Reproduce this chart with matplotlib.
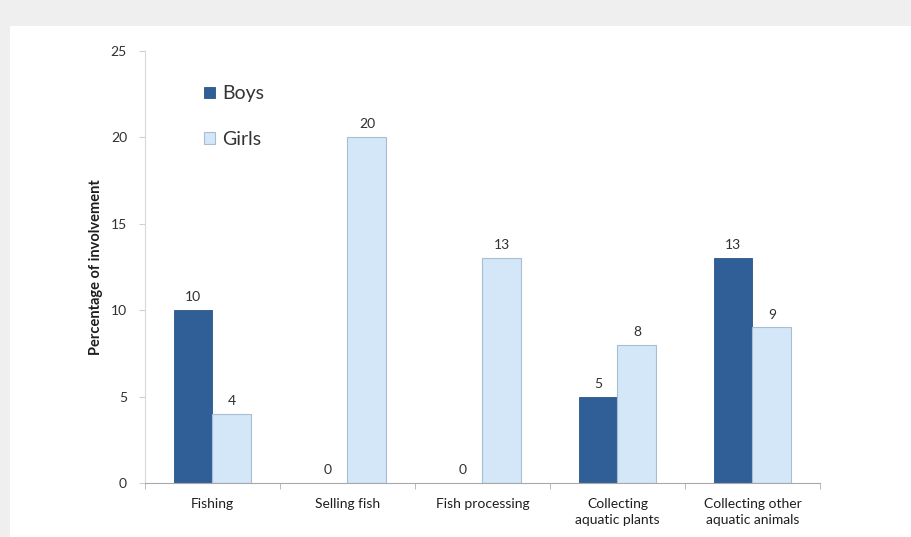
import numpy as np
import matplotlib.pyplot as plt
from matplotlib.patches import Rectangle

# activities and involvement (%)
categories = ["Fishing", "Selling fish", "Fish processing",
              "Collecting\naquatic plants", "Collecting other\naquatic animals"]
boys = [10, 0, 0, 5, 13]
girls = [4, 20, 13, 8, 9]

plt.rcParams['font.family'] = ['Lato', 'DejaVu Sans']

fig = plt.figure(figsize=(9.12, 5.37), dpi=100, facecolor='#efefef')
# white sheet behind the chart
fig.patches.append(Rectangle((10 / 912, 0), 1, 1 - 26 / 537, transform=fig.transFigure,
                             facecolor='white', edgecolor='none', zorder=-10))

ax = fig.add_axes([145 / 912, 1 - 483 / 537, 675 / 912, 432 / 537])
ax.set_facecolor('none')

x = np.arange(len(categories))
w = 0.288
b1 = ax.bar(x - w / 2, boys, w, color='#2f5f96', edgecolor='#2a5586', linewidth=0.6, label='Boys')
b2 = ax.bar(x + w / 2, girls, w, color='#d3e7f8', edgecolor='#a8bcd2', linewidth=0.8, label='Girls')

for rects, vals in ((b1, boys), (b2, girls)):
    for r, v in zip(rects, vals):
        ax.annotate(str(v), (r.get_x() + r.get_width() / 2, v), xytext=(0, 5),
                    textcoords='offset points', ha='center', va='bottom',
                    fontsize=10, color='#303030')

ax.set_xlim(-0.5, len(categories) - 0.5)
ax.set_ylim(0, 25)
ax.set_yticks([0, 5, 10, 15, 20, 25])
ax.set_xticks(x)
ax.set_xticklabels(categories, fontsize=10, color='#1e1e1e', linespacing=1.4)
ax.set_xticks(np.arange(-0.5, len(categories)), minor=True)
ax.tick_params(axis='x', which='major', length=0, pad=11)
ax.tick_params(axis='x', which='minor', length=4, color='#b0b0b0', direction='out')
ax.tick_params(axis='y', length=4, color='#d0d0d0', labelsize=10, labelcolor='#303030', pad=9)

for s in ('top', 'right'):
    ax.spines[s].set_visible(False)
ax.spines['left'].set_color('#d8d8d8')
ax.spines['bottom'].set_color('#a8a8a8')

ax.set_ylabel('Percentage of involvement', fontsize=10.5, fontweight='bold', color='#1e1e1e')
ax.yaxis.set_label_coords(-0.062, 0.5)

ax.legend(loc='upper left', bbox_to_anchor=(0.062, 0.961), frameon=False, fontsize=14,
          handlelength=0.55, handleheight=0.55, handletextpad=0.35, labelspacing=1.45,
          labelcolor='#333333')

fig.savefig('out.png', dpi=100, facecolor=fig.get_facecolor())
